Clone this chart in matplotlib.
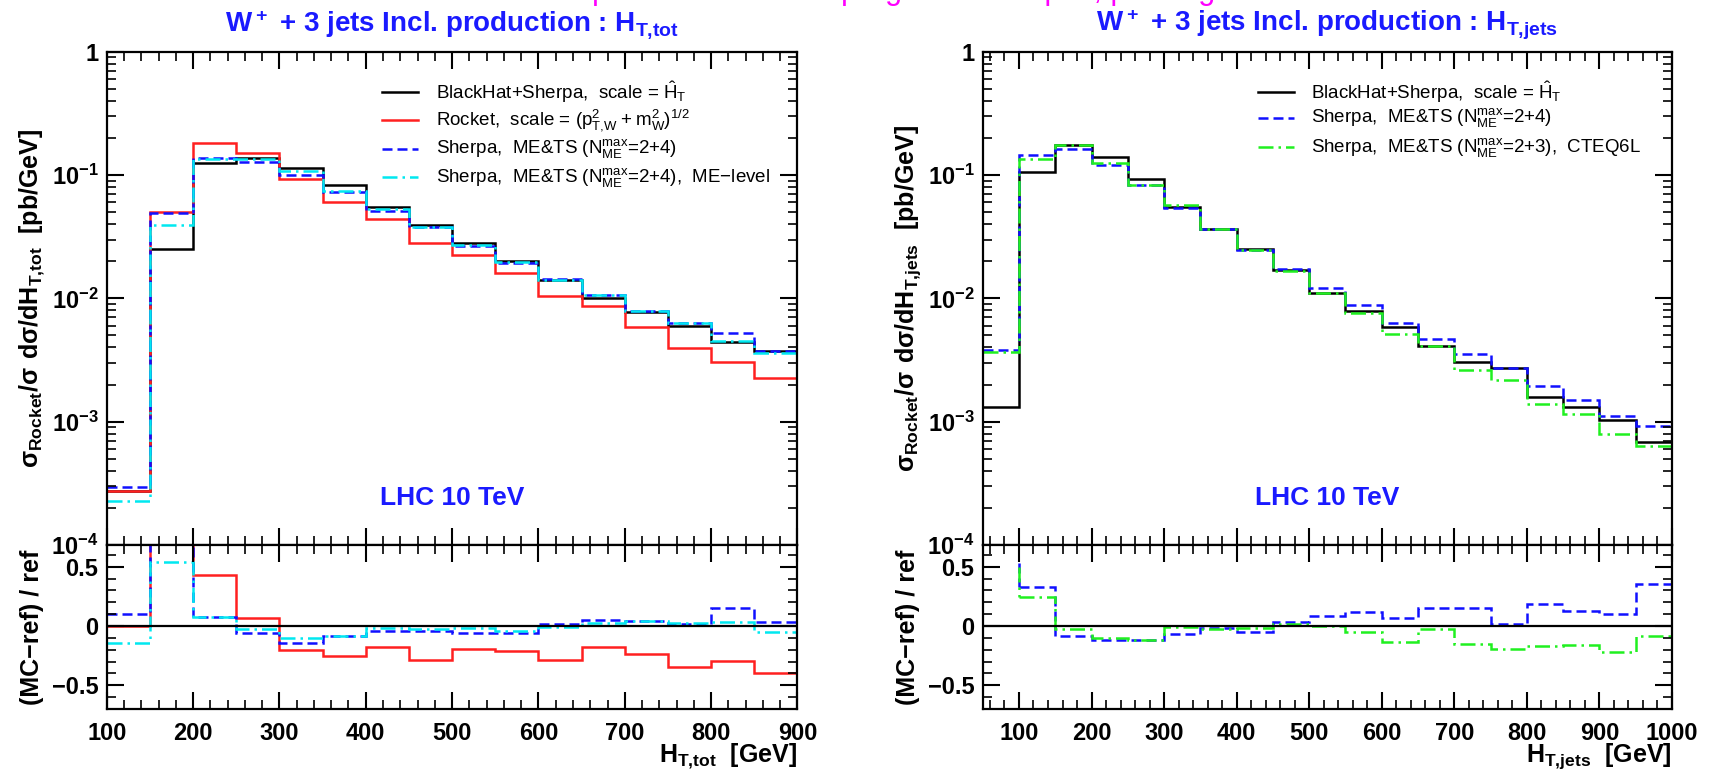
import numpy as np
import matplotlib
matplotlib.use('Agg')
import matplotlib.pyplot as plt
from matplotlib.ticker import FixedLocator, MultipleLocator, LogLocator, NullFormatter, FuncFormatter

plt.rcParams['font.family'] = ['Liberation Sans', 'DejaVu Sans']
plt.rcParams['font.weight'] = 'bold'
plt.rcParams['mathtext.default'] = 'regular'

# ---- left: H_T,tot, 50 GeV bins from 100 to 900
tot_edges = np.arange(100, 901, 50)
tot_blackhat = [2.74e-4, 0.0251, 0.1244, 0.1365, 0.115, 0.0824, 0.0547, 0.0393, 0.0282,
                0.0202, 0.0141, 0.0100, 0.00772, 0.00596, 0.00440, 0.00372]
tot_rocket = [2.74e-4, 0.0504, 0.1807, 0.150, 0.0923, 0.0608, 0.0437, 0.0283, 0.0224,
              0.0161, 0.0105, 0.00867, 0.00589, 0.00393, 0.00306, 0.00227]
tot_sherpa = [2.94e-4, 0.0495, 0.138, 0.128, 0.100, 0.0733, 0.0514, 0.0381, 0.0265,
              0.0195, 0.0143, 0.01064, 0.00789, 0.00634, 0.0052, 0.00376]
tot_melevel = [2.29e-4, 0.0394, 0.134, 0.134, 0.108, 0.074, 0.053, 0.0381, 0.0272,
               0.0197, 0.0140, 0.0107, 0.00789, 0.00634, 0.00451, 0.00358]

# (MC-ref)/ref, left
rat_tot_rocket = [0.0, 1.0, 0.433, 0.068, -0.2, -0.25, -0.178, -0.283, -0.194, -0.214,
                  -0.283, -0.178, -0.233, -0.347, -0.297, -0.4]
rat_tot_sherpa = [0.1, 0.97, 0.075, -0.062, -0.146, -0.083, -0.04, -0.04, -0.06, -0.06,
                  0.014, 0.05, 0.042, 0.014, 0.149, 0.031]
rat_tot_melevel = [-0.146, 0.54, 0.078, -0.028, -0.104, -0.083, -0.014, -0.028, -0.014,
                   -0.042, -0.006, 0.022, 0.044, 0.022, 0.031, -0.053]

# ---- right: H_T,jets, 50 GeV bins from 50 to 1000
jets_edges = np.arange(50, 1001, 50)
jets_blackhat = [1.32e-3, 0.1064, 0.1754, 0.141, 0.0922, 0.0546, 0.0364, 0.0252, 0.0169,
                 0.01104, 7.97e-3, 5.91e-3, 4.07e-3, 3.03e-3, 2.7e-3, 1.6e-3, 1.32e-3,
                 1.03e-3, 6.87e-4]
jets_sherpa = [3.78e-3, 0.1456, 0.1617, 0.1205, 0.0829, 0.0536, 0.0364, 0.0248, 0.0173,
               0.01213, 8.89e-3, 6.34e-3, 4.7e-3, 3.51e-3, 2.7e-3, 1.93e-3, 1.5e-3,
               1.11e-3, 9.22e-4]
jets_cteq = [3.65e-3, 0.134, 0.175, 0.126, 0.0829, 0.0571, 0.0364, 0.0245, 0.0168,
             0.011, 7.64e-3, 5.16e-3, 4.07e-3, 2.6e-3, 2.18e-3, 1.39e-3, 1.15e-3,
             7.94e-4, 6.38e-4]

# ratio on the right starts at 100 GeV (first bin off scale)
rat_jets_edges = np.arange(100, 1001, 50)
rat_jets_start = [0.53, 0.5]
rat_jets_sherpa = [0.333, -0.083, -0.117, -0.117, -0.067, -0.02, -0.047, 0.036, 0.083,
                   0.12, 0.064, 0.153, 0.153, 0.014, 0.189, 0.128, 0.1, 0.356]
rat_jets_cteq = [0.244, -0.028, -0.103, -0.117, -0.006, -0.028, -0.02, 0.017, 0.0,
                 -0.047, -0.139, -0.028, -0.15, -0.194, -0.172, -0.158, -0.217, -0.083]

BLACK = 'black'
RED = '#ff2020'
BLUE = '#1010ff'
CYAN = '#00e8f0'
GREEN = '#20f020'
LW = 1.8
DASH = (0, (4, 2))
DASHDOT = (0, (6, 2, 1, 2))

styles_tot = [
    (BLACK, '-', r'BlackHat+Sherpa,  scale = $\hat{H}_T$'),
    (RED, '-', r'Rocket,  scale = $(p^2_{T{,}W} + m^2_W)^{1/2}$'),
    (BLUE, DASH, r'Sherpa,  ME&TS ($N^{max}_{ME}$=2+4)'),
    (CYAN, DASHDOT, r'Sherpa,  ME&TS ($N^{max}_{ME}$=2+4),  ME$-$level'),
]
styles_jets = [
    (BLACK, '-', r'BlackHat+Sherpa,  scale = $\hat{H}_T$'),
    (BLUE, DASH, r'Sherpa,  ME&TS ($N^{max}_{ME}$=2+4)'),
    (GREEN, DASHDOT, r'Sherpa,  ME&TS ($N^{max}_{ME}$=2+3),  CTEQ6L'),
]

W, H = 1713, 782
fig = plt.figure(figsize=(W / 100, H / 100), dpi=100)


def px_axes(x0, x1, y0, y1):
    return fig.add_axes([x0 / W, 1 - y1 / H, (x1 - x0) / W, (y1 - y0) / H])


def style(ax):
    ax.tick_params(which='both', direction='in', top=True, right=True, labelsize=17)
    ax.tick_params(which='major', length=12, width=1.5)
    ax.tick_params(which='minor', length=6.5, width=1.2)
    ax.tick_params(axis='y', pad=6)
    ax.tick_params(axis='x', pad=9)
    for s in ax.spines.values():
        s.set_linewidth(1.6)


def log_fmt(v, pos):
    if abs(v - 1) < 1e-9:
        return '1'
    return r'$10^{%d}$' % int(round(np.log10(v)))


def main_panel(ax, edges, series, styles, xlo, xhi):
    for vals, (c, ls, _) in zip(series, styles):
        ax.stairs(vals, edges, baseline=None, color=c, linestyle=ls, lw=LW)
    ax.set_yscale('log')
    ax.set_ylim(1e-4, 1)
    ax.set_xlim(xlo, xhi)
    ax.yaxis.set_major_locator(FixedLocator([1e-4, 1e-3, 1e-2, 1e-1, 1]))
    ax.yaxis.set_major_formatter(FuncFormatter(log_fmt))
    ax.yaxis.set_minor_locator(LogLocator(base=10, subs=np.arange(2, 10)))
    ax.yaxis.set_minor_formatter(NullFormatter())
    ax.xaxis.set_major_locator(MultipleLocator(100))
    ax.xaxis.set_minor_locator(MultipleLocator(20))
    style(ax)
    ax.tick_params(labelbottom=False)
    # legend drawn by hand, ROOT style
    rows = [0.919, 0.862, 0.803, 0.745] if len(styles) == 4 else [0.919, 0.866, 0.806]
    for y, (c, ls, lab) in zip(rows, styles):
        ax.plot([0.399, 0.451], [y, y], transform=ax.transAxes, color=c, linestyle=ls, lw=LW)
        ax.text(0.477, y, lab, transform=ax.transAxes, fontsize=13.5, fontweight='normal',
                va='center', ha='left')
    ax.text(0.5, 0.095, 'LHC 10 TeV', transform=ax.transAxes, color='#1a1aff',
            fontsize=19, ha='center', va='center')


def ratio_panel(ax, xlo, xhi):
    ax.axhline(0, color='black', lw=1.6)
    ax.set_xlim(xlo, xhi)
    ax.set_ylim(-0.70, 0.683)
    ax.set_yticks([-0.5, 0, 0.5], ['\u22120.5', '0', '0.5'])
    ax.yaxis.set_minor_locator(MultipleLocator(0.1))
    ax.xaxis.set_major_locator(MultipleLocator(100))
    ax.xaxis.set_minor_locator(MultipleLocator(20))
    style(ax)


# ---------------- left
axL = px_axes(106.7, 797.5, 51.7, 545)
main_panel(axL, tot_edges, [tot_blackhat, tot_rocket, tot_sherpa, tot_melevel],
           styles_tot, 100, 900)
rL = px_axes(106.7, 797.5, 545, 709)
ratio_panel(rL, 100, 900)
for vals, (c, ls, _) in zip([rat_tot_rocket, rat_tot_sherpa, rat_tot_melevel], styles_tot[1:]):
    rL.stairs(vals, tot_edges, baseline=None, color=c, linestyle=ls, lw=LW)

# ---------------- right
axR = px_axes(982.7, 1672, 51.7, 545)
main_panel(axR, jets_edges, [jets_blackhat, jets_sherpa, jets_cteq], styles_jets, 50, 1000)
rR = px_axes(982.7, 1672, 545, 709)
ratio_panel(rR, 50, 1000)
for start, vals, (c, ls, _) in zip(rat_jets_start, [rat_jets_sherpa, rat_jets_cteq], styles_jets[1:]):
    rR.plot([rat_jets_edges[0], rat_jets_edges[0]], [start, vals[0]], color=c, linestyle=ls, lw=LW)
    rR.stairs(vals, rat_jets_edges, baseline=None, color=c, linestyle=ls, lw=LW)

# ---------------- titles and axis labels
for xc, sub in [((106.7 + 797.5) / 2, 'T{,}tot'), ((982.7 + 1672) / 2, 'T{,}jets')]:
    fig.text(xc / W, 1 - 31.7 / H, r'$W^+$ + 3 jets Incl. production : $H_{%s}$' % sub,
             color='#1a1aff', fontsize=20, ha='center', va='baseline')

for xf, x1, sub in [(32, 797.5, 'T{,}tot'), (908, 1672, 'T{,}jets')]:
    fig.text(xf / W, 1 - 298 / H,
             r'$\sigma_{Rocket}/\sigma\ d\sigma/dH_{%s}$  [pb/GeV]' % sub,
             rotation=90, fontsize=18, ha='center', va='center')
    fig.text(xf / W, 1 - 627 / H, '(MC\u2212ref) / ref', rotation=90, fontsize=18,
             ha='center', va='center')
    fig.text(x1 / W, 1 - 762 / H, r'$H_{%s}$  [GeV]' % sub, fontsize=18,
             ha='right', va='baseline')

# slide title, cut off at the top edge of the picture
fig.text(0.518, 1 + 1 / H, 'Comparison with other programs : shapes, pT ranges',
         color='#ff00ff', fontsize=22, fontweight='normal', ha='center', va='baseline')

fig.savefig('out.png', dpi=100)
